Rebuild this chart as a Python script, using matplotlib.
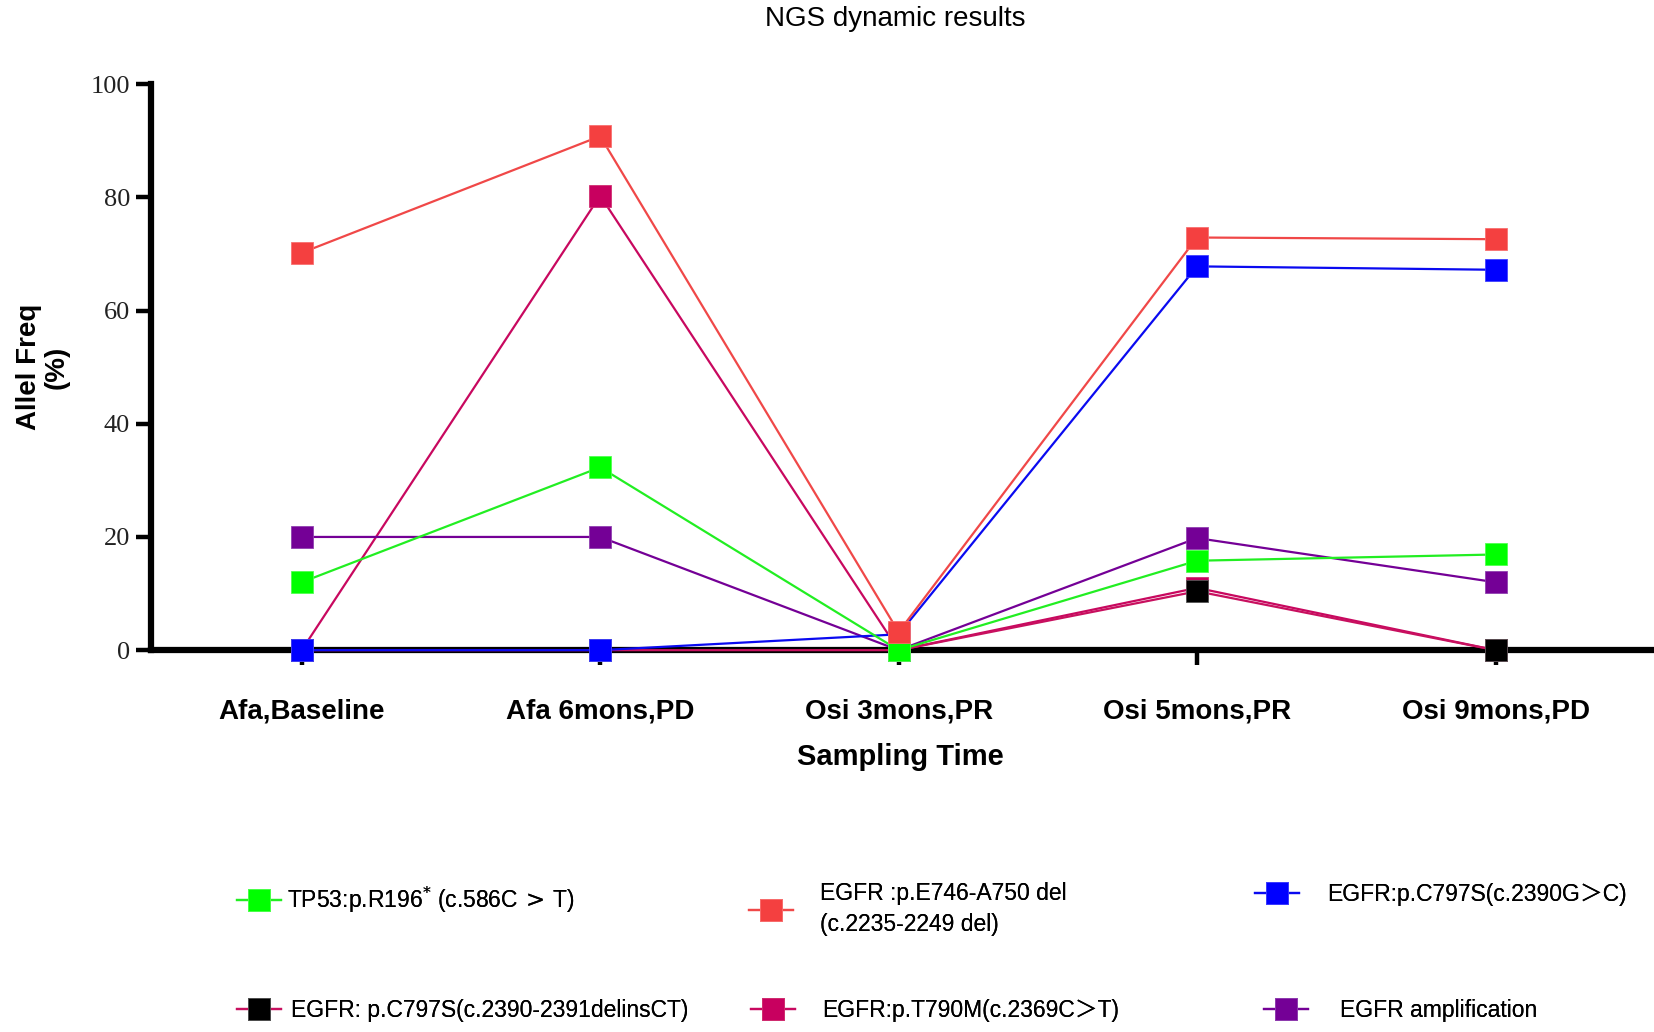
import matplotlib
matplotlib.use("Agg")
import matplotlib.pyplot as plt

# 采样时间点
timepoints = ["Afa,Baseline", "Afa 6mons,PD", "Osi 3mons,PR", "Osi 5mons,PR", "Osi 9mons,PD"]

# 各突变的等位基因频率 (%)
tp53_r196 = [12.0, 32.3, 0.0, 15.8, 16.9]
egfr_del19 = [70.2, 90.8, 3.2, 72.9, 72.6]
egfr_c797s_g2390c = [0.0, 0.0, 2.8, 67.8, 67.2]
egfr_c797s_delins = [0.0, 0.0, 0.0, 10.4, 0.0]
egfr_t790m = [0.0, 80.3, 0.0, 11.0, 0.0]
egfr_amp = [20.0, 20.0, 0.0, 19.8, 12.0]

labels = {
    "tp53": "TP53:p.R196$^{*}$ (c.586C$\\,>\\,$T)",
    "del19": "EGFR :p.E746-A750 del\n(c.2235-2249 del)",
    "c797s_g": "EGFR:p.C797S(c.2390G＞C)",
    "c797s_d": "EGFR: p.C797S(c.2390-2391delinsCT)",
    "t790m": "EGFR:p.T790M(c.2369C＞T)",
    "amp": "EGFR amplification",
}

SANS = ["Liberation Sans", "Noto Sans CJK SC", "DejaVu Sans"]
plt.rcParams["font.family"] = SANS

fig = plt.figure(figsize=(16.54, 10.32), dpi=100)
ax = fig.add_axes([0.0913, 0.370, 0.9067, 0.5485])

x = list(range(len(timepoints)))
common = dict(marker="s", markersize=16, linewidth=1.6, clip_on=False, markeredgewidth=0.6)

h_t790m, = ax.plot(x, egfr_t790m, color="#C8085F", mfc="#C8005F", mec="#D03070", **common)
h_delins, = ax.plot(x, egfr_c797s_delins, color="#C8105F", mfc="#000000", mec="#555555", **common)
h_amp, = ax.plot(x, egfr_amp, color="#740096", mfc="#740096", mec="#9040B0", **common)
h_c797s, = ax.plot(x, egfr_c797s_g2390c, color="#0A0AF0", mfc="#0000FF", mec="#4040FF", **common)
h_tp53, = ax.plot(x, tp53_r196, color="#22EE22", mfc="#00FF00", mec="#50FF50", **common)
h_del19, = ax.plot(x, egfr_del19, color="#F04848", mfc="#F44040", mec="#F87070", **common)

ax.set_xlim(-0.505, 4.52)
ax.set_ylim(0, 100)
ax.set_yticks([0, 20, 40, 60, 80, 100])
ax.set_xticks(x)
ax.set_xticklabels(timepoints, fontsize=20, fontweight="bold")
for lab in ax.get_yticklabels():
    lab.set_family("Liberation Serif")
    lab.set_fontsize(19)
    lab.set_color("#222222")

for side in ("top", "right"):
    ax.spines[side].set_visible(False)
for side in ("left", "bottom"):
    ax.spines[side].set_linewidth(4.5)
    ax.spines[side].set_zorder(1.5)
ax.tick_params(axis="y", length=11, width=3.2, pad=4)
ax.tick_params(axis="x", length=11, width=3.2, pad=24)

ax.set_xlabel("Sampling Time", fontsize=21, fontweight="bold", labelpad=13)
ax.set_ylabel("Allel Freq\n(%)", fontsize=20, fontweight="bold", labelpad=15, linespacing=1.1)
fig.text(0.541, 0.982, "NGS dynamic results", ha="center", va="center", fontsize=20)

# 图例：六个条目分别放置 (句柄左端 x, 中心 y, 文字间距)
W, H = 1654.0, 1032.0
entries = [
    (h_tp53, labels["tp53"], 237, 900, 0.3),
    (h_del19, labels["del19"], 749, 909, 1.2),
    (h_c797s, labels["c797s_g"], 1255, 895, 1.25),
    (h_delins, labels["c797s_d"], 237, 1011, 0.45),
    (h_t790m, labels["t790m"], 751, 1011, 1.2),
    (h_amp, labels["amp"], 1264, 1011, 1.4),
]
for handle, text, px, py, pad in entries:
    leg = fig.legend(
        [handle], [text],
        loc="center left",
        bbox_to_anchor=(px / W, 1 - py / H),
        frameon=False,
        prop={"family": SANS, "size": 16.5},
        handlelength=1.9,
        handletextpad=pad,
        borderpad=0,
        borderaxespad=0,
        markerscale=0.95,
    )
    for t in leg.get_texts():
        t.set_linespacing(1.45)
    fig.add_artist(leg)

fig.savefig("out.png", dpi=100)
